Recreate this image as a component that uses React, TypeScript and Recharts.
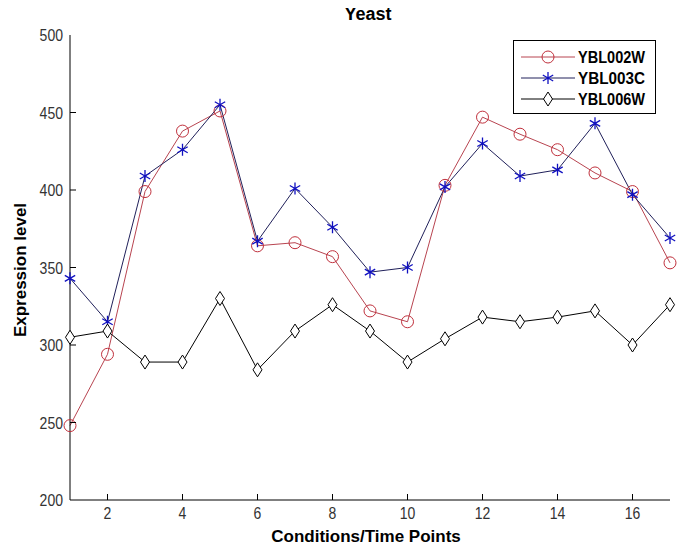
import { LineChart, Line, XAxis, YAxis } from 'recharts';

const points = [1, 2, 3, 4, 5, 6, 7, 8, 9, 10, 11, 12, 13, 14, 15, 16, 17];
const ybl002w = [248, 294, 399, 438, 451, 364, 366, 357, 322, 315, 403, 447, 436, 426, 411, 399, 353];
const ybl003c = [343, 315, 409, 426, 455, 367, 401, 376, 347, 350, 402, 430, 409, 413, 443, 397, 369];
const ybl006w = [305, 309, 289, 289, 330, 284, 309, 326, 309, 289, 304, 318, 315, 318, 322, 300, 326];
const xTicks = [2, 4, 6, 8, 10, 12, 14, 16];
const yTicks = [200, 250, 300, 350, 400, 450, 500];

const data = points.map((p, i) => ({ p, a: ybl002w[i], b: ybl003c[i], c: ybl006w[i] }));

const font = "'Liberation Sans', Arial, sans-serif";
const RED = '#c0303c';
const RED_LINE = '#b84450';
const BLUE = '#1010c0';
const NAVY = '#20205a';

const Circle = ({ cx, cy }: any) =>
  cx == null ? null : <circle cx={cx} cy={cy} r={6} fill="none" stroke={RED} strokeWidth={1} />;

const Star = ({ cx, cy }: any) => {
  if (cx == null) return null;
  const s = 6;
  const d = [90, 30, 150].map((a) => {
    const dx = s * Math.cos((a * Math.PI) / 180);
    const dy = s * Math.sin((a * Math.PI) / 180);
    return `M${cx - dx},${cy - dy}L${cx + dx},${cy + dy}`;
  });
  return <path d={d.join('')} stroke={BLUE} strokeWidth={1.3} fill="none" />;
};

const Diamond = ({ cx, cy }: any) =>
  cx == null ? null : (
    <path d={`M${cx},${cy - 7}L${cx + 4.5},${cy}L${cx},${cy + 7}L${cx - 4.5},${cy}Z`} fill="#fff" stroke="#000" strokeWidth={1} />
  );

const numText = (v: number) => String(v).length * 7.8;

const BottomTick = ({ x, y, payload }: any) => (
  <g>
    <line x1={x} x2={x} y1={y - 12} y2={y - 18} stroke="#000" />
    <text x={x} y={y} dy={7} textAnchor="middle" fontFamily={font} fontSize={17} fill="#333"
      textLength={numText(payload.value)} lengthAdjust="spacingAndGlyphs">
      {payload.value}
    </text>
  </g>
);

const LeftTick = ({ x, y, payload }: any) => (
  <g>
    {payload.value > 200 && payload.value < 500 && <line x1={x + 7} x2={x + 13} y1={y} y2={y} stroke="#000" />}
    <text x={x} y={y} dy={6} textAnchor="end" fontFamily={font} fontSize={17} fill="#333"
      textLength={numText(payload.value)} lengthAdjust="spacingAndGlyphs">
      {payload.value}
    </text>
  </g>
);

const TopTick = ({ x, y }: any) => <line x1={x} x2={x} y1={y} y2={y + 6} stroke="#000" />;
const RightTick = ({ x, y, payload }: any) =>
  payload.value > 200 && payload.value < 500 ? <line x1={x} x2={x - 6} y1={y} y2={y} stroke="#000" /> : null;

const legendItems = [
  { name: 'YBL002W', color: RED_LINE, Marker: Circle },
  { name: 'YBL003C', color: NAVY, Marker: Star },
  { name: 'YBL006W', color: '#000', Marker: Diamond },
];

const LegendBox = () => (
  <svg width={143} height={74} style={{ position: 'absolute', top: 32, left: 505 }}>
    <rect x={0.5} y={0.5} width={142} height={73} fill="#fff" stroke="#000" />
    {legendItems.map((it, i) => {
      const cy = 17 + i * 21;
      return (
        <g key={it.name}>
          <line x1={8} x2={62} y1={cy} y2={cy} stroke={it.color} />
          <it.Marker cx={35} cy={cy} />
          <text x={65} y={cy} dy={6} fontFamily={font} fontWeight="bold" fontSize={17} fill="#000"
            textLength={67} lengthAdjust="spacingAndGlyphs">
            {it.name}
          </text>
        </g>
      );
    })}
  </svg>
);

export default function App() {
  return (
    <div style={{ position: 'relative', width: 677, height: 546, background: '#fff' }}>
      <LineChart width={677} height={546} data={data} margin={{ top: 27, right: 15, bottom: 0, left: 0 }}>
        <XAxis
          xAxisId="b"
          dataKey="p"
          type="number"
          domain={[1, 17]}
          ticks={xTicks}
          tickSize={0}
          tickMargin={12}
          tick={<BottomTick />}
          axisLine={{ stroke: '#000' }}
          height={54}
        />
        <XAxis
          xAxisId="t"
          orientation="top"
          dataKey="p"
          type="number"
          domain={[1, 17]}
          ticks={xTicks}
          tickSize={0}
          tickMargin={0}
          tick={<TopTick />}
          axisLine={{ stroke: '#000' }}
          height={0}
        />
        <YAxis
          yAxisId="l"
          type="number"
          domain={[200, 500]}
          ticks={yTicks}
          tickSize={0}
          tickMargin={7}
          tick={<LeftTick />}
          axisLine={{ stroke: '#000' }}
          width={62}
        />
        <YAxis
          yAxisId="r"
          orientation="right"
          type="number"
          domain={[200, 500]}
          ticks={yTicks}
          tickSize={0}
          tickMargin={0}
          tick={<RightTick />}
          axisLine={{ stroke: '#000' }}
          width={0}
        />
        <Line xAxisId="b" yAxisId="l" dataKey="a" name="YBL002W" stroke={RED_LINE} strokeWidth={1} dot={<Circle />} isAnimationActive={false} />
        <Line xAxisId="b" yAxisId="l" dataKey="b" name="YBL003C" stroke={NAVY} strokeWidth={1} dot={<Star />} isAnimationActive={false} />
        <Line xAxisId="b" yAxisId="l" dataKey="c" name="YBL006W" stroke="#000" strokeWidth={1} dot={<Diamond />} isAnimationActive={false} />
      </LineChart>
      <LegendBox />
      <div style={{ position: 'absolute', top: -4, left: 0, width: 720, textAlign: 'center', fontFamily: font, fontWeight: 'bold', fontSize: 18 }}>
        Yeast
      </div>
      <div style={{ position: 'absolute', top: 519, left: 0, width: 716, textAlign: 'center', fontFamily: font, fontWeight: 'bold', fontSize: 17 }}>
        Conditions/Time Points
      </div>
      <div
        style={{
          position: 'absolute',
          top: 262,
          left: 13,
          transform: 'translate(-50%, -50%) rotate(-90deg)',
          whiteSpace: 'nowrap',
          fontFamily: font,
          fontWeight: 'bold',
          fontSize: 17,
        }}
      >
        Expression level
      </div>
    </div>
  );
}
